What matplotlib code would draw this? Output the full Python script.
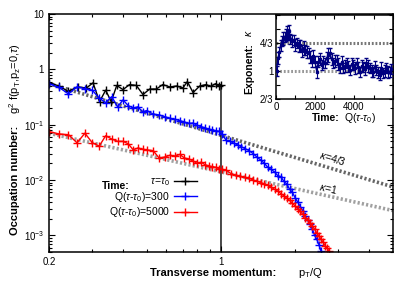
import matplotlib.pyplot as plt
from matplotlib.ticker import FixedLocator, NullFormatter, LogLocator

plt.rcParams['font.family'] = ['Liberation Sans', 'DejaVu Sans']
plt.rcParams['mathtext.fontset'] = 'custom'
plt.rcParams['mathtext.rm'] = 'Liberation Sans'
plt.rcParams['mathtext.it'] = 'Liberation Sans:italic'

# occupation number at tau = tau0
x_t0 = [0.20, 0.22, 0.239, 0.262, 0.284, 0.302, 0.321, 0.34, 0.358, 0.377, 0.40,
        0.425, 0.453, 0.482, 0.513, 0.546, 0.58, 0.62, 0.66, 0.70, 0.73, 0.77,
        0.82, 0.87, 0.91, 0.95, 0.98, 1.0, 1.0]
y_t0 = [0.57, 0.50, 0.40, 0.48, 0.46, 0.57, 0.26, 0.42, 0.26, 0.51, 0.43,
        0.53, 0.51, 0.35, 0.44, 0.44, 0.53, 0.48, 0.50, 0.46, 0.60, 0.38,
        0.50, 0.53, 0.49, 0.55, 0.50, 0.53, 1e-5]

# Q(tau-tau0) = 300
x_300 = [0.20, 0.22, 0.24, 0.26, 0.28, 0.30, 0.32, 0.34, 0.36, 0.38, 0.40, 0.42,
         0.44, 0.46, 0.48, 0.50, 0.53, 0.56, 0.59, 0.62, 0.65, 0.68, 0.71, 0.74,
         0.77, 0.80, 0.83, 0.86, 0.89, 0.92, 0.95, 0.98, 1.01, 1.05, 1.09, 1.13,
         1.17, 1.21, 1.25, 1.30, 1.35, 1.40, 1.45, 1.50, 1.55, 1.60, 1.65, 1.70,
         1.75, 1.80, 1.85, 1.90, 1.95, 2.00, 2.05, 2.10, 2.15, 2.20, 2.25, 2.30,
         2.35, 2.40, 2.45, 2.50, 2.55]
y_300 = [0.55, 0.47, 0.36, 0.48, 0.45, 0.42, 0.30, 0.25, 0.32, 0.21, 0.28, 0.22,
         0.20, 0.21, 0.17, 0.18, 0.155, 0.15, 0.14, 0.13, 0.125, 0.118, 0.112,
         0.105, 0.107, 0.097, 0.092, 0.088, 0.083, 0.081, 0.078, 0.076, 0.068,
         0.052, 0.050, 0.046, 0.043, 0.040, 0.037, 0.034, 0.030, 0.026, 0.023,
         0.020, 0.017, 0.0155, 0.014, 0.012, 0.0115, 0.0095, 0.0085, 0.0068,
         0.0060, 0.0048, 0.0040, 0.0033, 0.0028, 0.0022, 0.0019, 0.0016, 0.0013,
         0.0010, 0.00085, 0.00068, 0.00052]

# Q(tau-tau0) = 5000
x_5000 = [0.20, 0.22, 0.24, 0.26, 0.28, 0.30, 0.32, 0.34, 0.36, 0.38, 0.40, 0.42,
          0.44, 0.46, 0.48, 0.50, 0.53, 0.56, 0.59, 0.62, 0.65, 0.68, 0.71, 0.74,
          0.77, 0.80, 0.83, 0.86, 0.89, 0.92, 0.95, 0.98, 1.01, 1.05, 1.10, 1.15,
          1.20, 1.25, 1.30, 1.35, 1.40, 1.45, 1.50, 1.55, 1.60, 1.65, 1.70, 1.75,
          1.80, 1.85, 1.90, 1.95, 2.00, 2.05, 2.10, 2.15, 2.20, 2.25, 2.30, 2.35,
          2.40, 2.45, 2.50, 2.55, 2.60, 2.65, 2.70, 2.75]
y_5000 = [0.075, 0.068, 0.066, 0.047, 0.07, 0.047, 0.041, 0.063, 0.055, 0.05,
          0.05, 0.045, 0.035, 0.038, 0.036, 0.035, 0.034, 0.025, 0.026, 0.028,
          0.027, 0.029, 0.025, 0.024, 0.022, 0.020, 0.021, 0.019, 0.018, 0.0175,
          0.017, 0.016, 0.0155, 0.0150, 0.0130, 0.0122, 0.0116, 0.0112, 0.0108,
          0.0100, 0.0095, 0.0090, 0.0085, 0.0080, 0.0074, 0.0068, 0.0063, 0.0057,
          0.0052, 0.0047, 0.0043, 0.0038, 0.0034, 0.0030, 0.0027, 0.0024, 0.0021,
          0.0019, 0.0017, 0.0015, 0.0013, 0.0011, 0.00097, 0.00085, 0.00075,
          0.00065, 0.00058, 0.00052]

# power-law guide lines (end points)
guide_x = [0.2, 5.0]
guide_43 = [0.55, 0.0075]
guide_1 = [0.07, 0.0028]

# inset: exponent kappa vs time
t_kap = [30, 100, 170, 240, 300, 370, 440, 500, 560, 620, 680, 740, 820, 900,
         990, 1080, 1160, 1250, 1330, 1420, 1500, 1590, 1670, 1760, 1840, 1920,
         2000, 2090, 2170, 2250, 2340, 2420, 2510, 2600, 2680, 2770, 2850, 2940,
         3020, 3110, 3200, 3280, 3370, 3450, 3540, 3620, 3710, 3790, 3880, 3960,
         4050, 4130, 4220, 4300, 4390, 4470, 4560, 4640, 4730, 4810, 4900, 4980,
         5070, 5150, 5240, 5320, 5410, 5490, 5580, 5660, 5750, 5830, 5900]
kap = [1.00, 1.15, 1.22, 1.30, 1.35, 1.38, 1.40, 1.42, 1.45, 1.43, 1.47, 1.38,
       1.35, 1.37, 1.31, 1.33, 1.29, 1.30, 1.23, 1.27, 1.25, 1.22, 1.21, 1.16,
       1.11, 1.18, 1.11, 0.99, 1.11, 1.14, 1.07, 1.10, 1.09, 1.15, 1.19, 1.21,
       1.14, 1.09, 1.12, 1.13, 1.08, 1.03, 1.10, 1.03, 1.06, 1.09, 1.05, 1.01,
       1.08, 1.07, 1.03, 1.09, 1.04, 0.99, 1.06, 1.05, 1.02, 1.09, 1.06, 1.03,
       1.00, 0.99, 1.05, 1.01, 0.98, 0.95, 1.03, 0.97, 1.00, 1.03, 0.99, 0.99, 1.02]
kap_err = [0.06, 0.07, 0.06, 0.07, 0.06, 0.08, 0.06, 0.07, 0.08, 0.06, 0.07, 0.06,
           0.07, 0.06, 0.07, 0.06, 0.07, 0.06, 0.07, 0.08, 0.06, 0.07, 0.06, 0.07,
           0.06, 0.07, 0.06, 0.07, 0.06, 0.07, 0.06, 0.07, 0.06, 0.07, 0.08, 0.06,
           0.07, 0.06, 0.07, 0.06, 0.07, 0.06, 0.07, 0.06, 0.07, 0.06, 0.07, 0.06,
           0.07, 0.06, 0.07, 0.06, 0.07, 0.06, 0.07, 0.06, 0.07, 0.06, 0.07, 0.06,
           0.07, 0.06, 0.07, 0.06, 0.07, 0.06, 0.07, 0.06, 0.07, 0.06, 0.07, 0.06, 0.06]

fig = plt.figure(figsize=(4.15, 2.91), dpi=100)
ax = fig.add_axes([0.118, 0.134, 0.829, 0.818])

ax.plot(guide_x, guide_43, color='#666666', lw=2.6, ls=(0, (0.6, 0.6)), zorder=1)
ax.plot(guide_x, guide_1, color='#a0a0a0', lw=2.6, ls=(0, (0.6, 0.6)), zorder=1)

ax.plot(x_t0, y_t0, color='black', lw=1, marker='+', ms=6, mew=1, label=r'$\tau\!=\!\tau_0$')
ax.plot(x_300, y_300, color='blue', lw=1, marker='+', ms=6, mew=1, label=r'Q($\tau$-$\tau_0$)=300')
ax.plot(x_5000, y_5000, color='red', lw=1, marker='+', ms=6, mew=1, label=r'Q($\tau$-$\tau_0$)=5000')

ax.set_xscale('log')
ax.set_yscale('log')
ax.set_xlim(0.2, 5)
ax.set_ylim(5e-4, 10)
ax.set_xticks([0.2, 1])
ax.set_xticklabels(['0.2', '1'])
ax.xaxis.set_minor_locator(FixedLocator([0.3, 0.4, 0.5, 0.6, 0.7, 0.8, 0.9, 2, 3, 4]))
ax.xaxis.set_minor_formatter(NullFormatter())
ax.set_yticks([1e-3, 1e-2, 1e-1, 1, 10])
ax.set_yticklabels(['$10^{-3}$', '$10^{-2}$', '$10^{-1}$', '1', '10'])
ax.yaxis.set_minor_locator(LogLocator(base=10, subs=range(2, 10)))
ax.yaxis.set_minor_formatter(NullFormatter())
ax.tick_params(which='both', direction='in', top=True, right=True, labelsize=7, width=0.8)
ax.tick_params(which='major', length=4)
ax.tick_params(which='minor', length=2)
for s in ax.spines.values():
    s.set_linewidth(1.1)

ax.text(2.85, 0.025, r'$\kappa$=4/3', rotation=-17, fontsize=7.5, ha='center', va='center')
ax.text(2.72, 0.0072, r'$\kappa$=1', rotation=-13, fontsize=7.5, ha='center', va='center')

leg = ax.legend(loc='upper right', bbox_to_anchor=(0.445, 0.34), frameon=False,
                markerfirst=False, fontsize=7.5, handlelength=2.2, handletextpad=0.4,
                labelspacing=0.15, borderpad=0)
fig.text(0.245, 0.36, 'Time:', fontsize=7.5, fontweight='bold', ha='left', va='center')

fig.text(0.514, 0.062, 'Transverse momentum:', fontsize=8, fontweight='bold', ha='center', va='center')
fig.text(0.748, 0.062, r'p$_\mathrm{T}$/Q', fontsize=8, ha='center', va='center')
fig.text(0.036, 0.38, 'Occupation number:', fontsize=8, fontweight='bold', rotation=90,
         ha='center', va='center')
fig.text(0.036, 0.73, r'g$^2$ f(p$_\mathrm{T}$,p$_\mathrm{z}$=0,$\tau$)', fontsize=8,
         rotation=90, ha='center', va='center')

# inset
ins = fig.add_axes([0.665, 0.66, 0.282, 0.29])
ins.axhline(4/3, color='#777777', lw=2.2, ls=(0, (0.6, 0.6)), zorder=1)
ins.axhline(1.0, color='#999999', lw=2.2, ls=(0, (0.6, 0.6)), zorder=1)
ins.errorbar(t_kap, kap, yerr=kap_err, color='#000080', ecolor='#000080', lw=1,
             marker='s', ms=2, elinewidth=0.8, capsize=1.5, zorder=3)
ins.set_xlim(0, 6000)
ins.set_ylim(2/3, 5/3)
ins.set_xticks([0, 1000, 2000, 3000, 4000, 5000, 6000])
ins.set_xticklabels(['0', '', '2000', '', '4000', '', ''])
ins.set_yticks([2/3, 5/6, 1, 7/6, 4/3, 3/2, 5/3])
ins.set_yticklabels(['2/3', '', '1', '', '4/3', '', ''])
ins.tick_params(direction='in', top=True, right=True, labelsize=7, length=3, width=0.8, pad=2)
for s in ins.spines.values():
    s.set_linewidth(1.1)
fig.text(0.752, 0.595, 'Time:', fontsize=7.5, fontweight='bold', ha='left', va='center')
fig.text(0.83, 0.595, r'Q($\tau$-$\tau_0$)', fontsize=7.5, ha='left', va='center')
fig.text(0.6, 0.765, 'Exponent:', fontsize=7.5, fontweight='bold', rotation=90,
         ha='center', va='center')
fig.text(0.6, 0.885, r'$\kappa$', fontsize=7.5, rotation=90, ha='center', va='center')

fig.savefig('out.png', dpi=100)
